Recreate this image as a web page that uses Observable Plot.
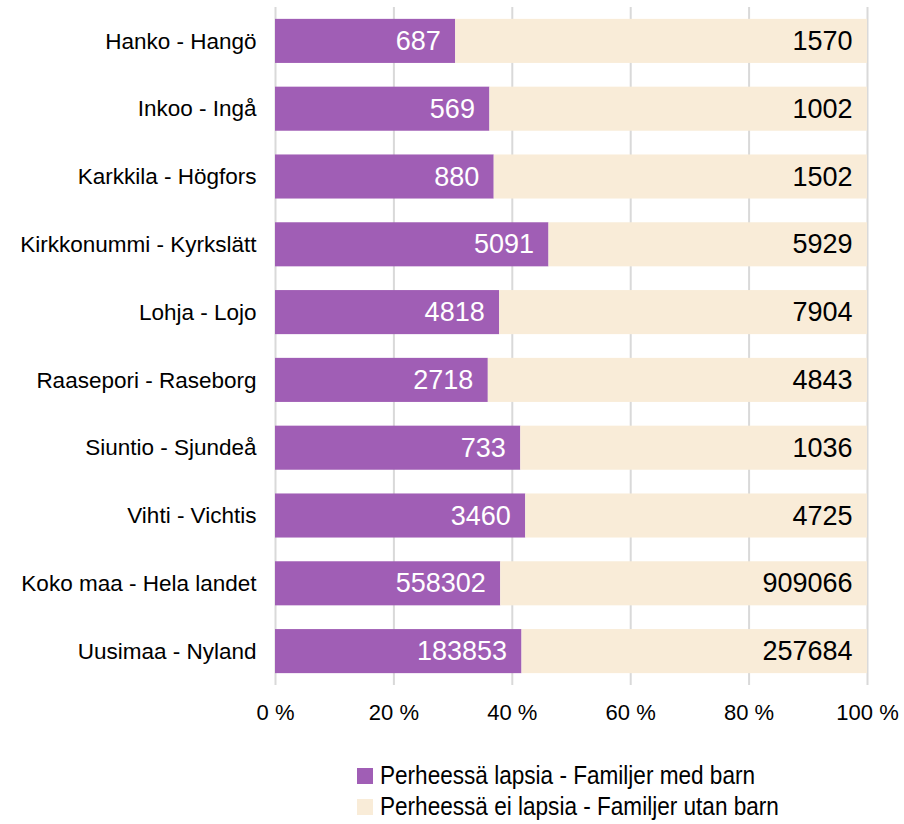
<!DOCTYPE html>
<html>
<head>
<meta charset="utf-8">
<script src="https://cdn.jsdelivr.net/npm/d3@7"></script>
<script src="https://cdn.jsdelivr.net/npm/@observablehq/plot@0.6"></script>
<style>
  body { margin: 0; background: #fff; font-family: "Liberation Sans", Arial, sans-serif; }
  #wrap { position: relative; width: 904px; height: 824px; }
  #legend { position: absolute; left: 357px; top: 760px; font-size: 26px; color: #000; }
  .item { display: flex; align-items: center; height: 31px; white-space: nowrap; }
  .sw { width: 16px; height: 16px; margin-right: 7px; flex: none; }
  .lab { display: inline-block; transform: scaleX(0.868); transform-origin: left center; }
</style>
</head>
<body>
<div id="wrap">
  <div id="chart"></div>
  <div id="legend"></div>
</div>
<script>
const regions = ["Hanko - Hangö", "Inkoo - Ingå", "Karkkila - Högfors", "Kirkkonummi - Kyrkslätt", "Lohja - Lojo", "Raasepori - Raseborg", "Siuntio - Sjundeå", "Vihti - Vichtis", "Koko maa - Hela landet", "Uusimaa - Nyland"];
const withChildren = [687, 569, 880, 5091, 4818, 2718, 733, 3460, 558302, 183853];
const withoutChildren = [1570, 1002, 1502, 5929, 7904, 4843, 1036, 4725, 909066, 257684];
const seriesNames = ["Perheessä lapsia - Familjer med barn", "Perheessä ei lapsia - Familjer utan barn"];
const seriesColors = ["#a05eb5", "#f9ecd8"];
const textColors = ["#ffffff", "#000000"];
const xTicks = [0, 0.2, 0.4, 0.6, 0.8, 1];

const rows = [];
regions.forEach((r, i) => {
  rows.push({region: r, kind: seriesNames[0], value: withChildren[i]});
  rows.push({region: r, kind: seriesNames[1], value: withoutChildren[i]});
});

const chart = Plot.plot({
  width: 904,
  height: 744,
  marginLeft: 275,
  marginRight: 37,
  marginTop: 7,
  marginBottom: 59,
  style: {fontFamily: "Liberation Sans, Arial, sans-serif", background: "#fff"},
  x: {domain: [0, 1], ticks: xTicks, tickFormat: d => Math.round(d * 100) + " %", tickSize: 0, tickPadding: 19, label: null, fontSize: 22},
  y: {domain: regions, paddingInner: 0.35, paddingOuter: 0.175, round: false, tickSize: 0, tickPadding: 19, label: null},
  color: {domain: seriesNames, range: seriesColors},
  marks: [
    Plot.gridX(xTicks, {stroke: "#d9d9d9", strokeOpacity: 1, strokeWidth: 2}),
    Plot.barX(rows, Plot.stackX({x: "value", y: "region", fill: "kind", z: "kind", offset: "normalize"})),
    Plot.text(rows, Plot.stackX2({
      x: "value", y: "region", z: "kind", offset: "normalize",
      text: d => String(d.value),
      fill: d => textColors[seriesNames.indexOf(d.kind)],
      textAnchor: "end", dx: -15, fontSize: 27
    })),
    Plot.axisX({ticks: xTicks, tickFormat: d => Math.round(d * 100) + " %", tickSize: 0, tickPadding: 19, fontSize: 22, label: null}),
    Plot.axisY({tickSize: 0, tickPadding: 19, fontSize: 22.5, label: null})
  ]
});
document.getElementById("chart").appendChild(chart);

const legend = document.getElementById("legend");
seriesNames.forEach((n, i) => {
  const it = document.createElement("div");
  it.className = "item";
  const sw = document.createElement("span");
  sw.className = "sw";
  sw.style.background = seriesColors[i];
  const lab = document.createElement("span");
  lab.className = "lab";
  lab.textContent = n;
  it.appendChild(sw);
  it.appendChild(lab);
  legend.appendChild(it);
});
</script>
</body>
</html>
